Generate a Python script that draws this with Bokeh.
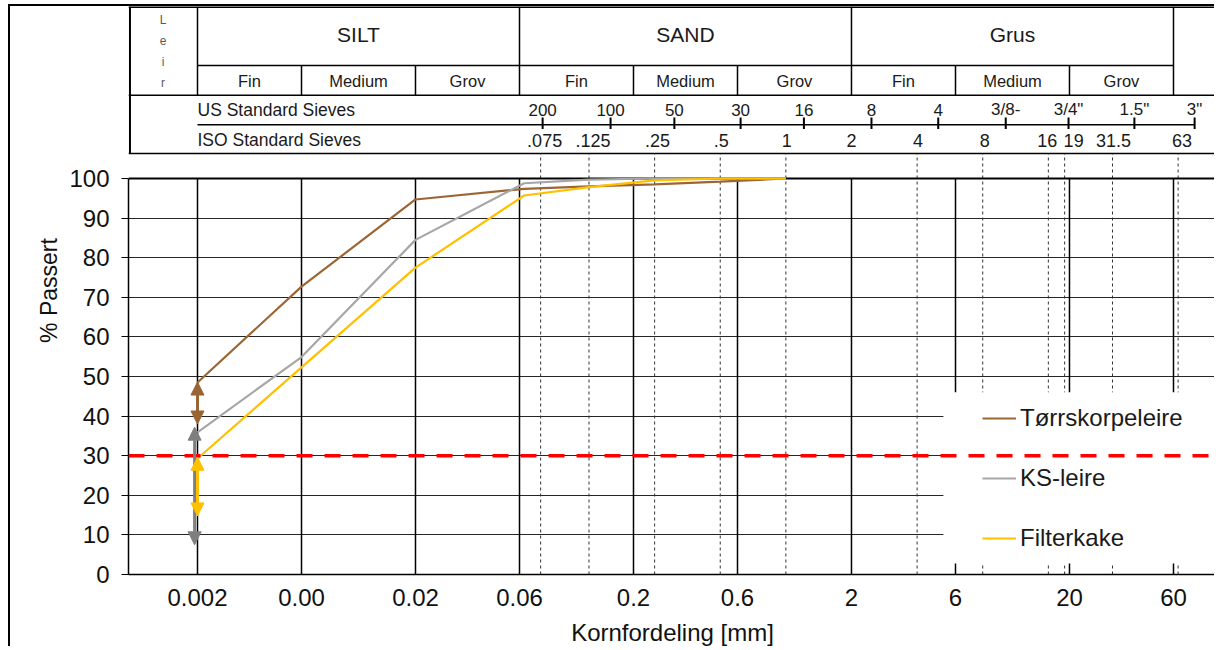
from bokeh.plotting import figure
from bokeh.models import (Range1d, FixedTicker, Span, Arrow, NormalHead,
                          Legend, LegendItem)
from bokeh.core.properties import value
from bokeh.embed import file_html
from bokeh.resources import INLINE

FONT = "Liberation Sans"

# ---------------- data ----------------
grain_mm = [0.002, 0.006, 0.02, 0.063, 0.125, 0.25, 0.5, 1.0]
torrskorpeleire = [48.5, 72.7, 94.7, 97.4, 98.0, 98.5, 99.2, 100.0]
ks_leire = [35.9, 54.9, 84.5, 98.8, 99.7, 100.0, 100.0, 100.0]
filterkake = [29.3, 52.3, 77.5, 95.7, 97.8, 99.5, 100.0, 100.0]

series_names = ["Tørrskorpeleire", "KS-leire", "Filterkake"]
series_colors = ["#9C6634", "#A6A6A6", "#FFC000"]

# range arrows at the clay boundary (drawn gray, yellow, brown)
arrow_names = ["KS-leire", "Filterkake", "Tørrskorpeleire"]
arrow_x = [0.00194, 0.002, 0.002]
arrow_top = [37.2, 29.6, 48.6]
arrow_bottom = [7.5, 14.8, 38.0]
arrow_colors = ["#7F7F7F", "#FFC000", "#996633"]

# class boundaries / x tick labels
class_bounds = [0.002, 0.006, 0.02, 0.06, 0.2, 0.6, 2, 6, 20, 60]
class_labels = ["0.002", "0.00", "0.02", "0.06", "0.2", "0.6", "2", "6", "20", "60"]

main_classes = ["SILT", "SAND", "Grus"]
main_from = [0.002, 0.06, 2]
main_to = [0.06, 2, 60]
sub_classes = ["Fin", "Medium", "Grov"] * 3

us_sieve_labels = ["200", "100", "50", "30", "16", "8", "4", "3/8-", "3/4\"", "1.5\"", "3\""]
us_sieve_mm = [0.0766, 0.157, 0.308, 0.62, 1.21, 2.47, 5.0, 10.2, 19.8, 39.7, 75.0]
iso_sieve_labels = [".075", ".125", ".25", ".5", "1", "2", "4", "8", "16", "19", "31.5", "63"]
iso_sieve_mm = [0.075, 0.125, 0.25, 0.5, 1, 2, 4, 8, 16, 19, 31.5, 63]
iso_dashed_mm = [0.075, 0.125, 0.25, 0.5, 1, 4, 8, 16, 19, 31.5, 63]

# ---------------- layout constants ----------------
X_LO, X_HI = 0.000965, 94.5
Y_TOP = 143.43
HDR_TOP, ROW1, ROW2, US_LINE, HDR_BOT = Y_TOP, 128.5, 121.0, 113.6, 106.3
iso_label_dx = [4, 4, 3, 1, 1, 0, 1, 2, -1, 9, 1, 4]

p = figure(width=1206, height=642, x_axis_type="log",
           x_range=Range1d(X_LO, X_HI), y_range=Range1d(0, Y_TOP),
           output_backend="svg", toolbar_location=None,
           min_border_left=118, min_border_right=0, min_border_top=0,
           min_border_bottom=74, background_fill_color="white",
           border_fill_color="white")
p.styles = {"border-left": "2px solid black", "border-top": "2px solid black",
            "margin-left": "8px", "margin-top": "4px"}
p.outline_line_color = None
p.xgrid.visible = False
p.ygrid.ticker = FixedTicker(ticks=list(range(0, 101, 10)))
p.ygrid.grid_line_color = "#262626"
p.ygrid.grid_line_width = 1

# y axis
ya = p.yaxis[0]
ya.ticker = FixedTicker(ticks=list(range(0, 101, 10)))
ya.bounds = (0, 100)
ya.axis_line_width = 1.5
ya.axis_line_color = "black"
ya.major_tick_out = 7
ya.major_tick_in = 0
ya.minor_tick_line_color = None
ya.major_label_text_font = FONT
ya.major_label_text_font_size = "24px"
ya.major_label_text_color = "#111111"
ya.major_label_standoff = 12
ya.axis_label = "% Passert"
ya.axis_label_text_font = FONT
ya.axis_label_text_font_size = "23px"
ya.axis_label_text_font_style = "normal"
ya.axis_label_text_color = "#111111"
ya.axis_label_standoff = 4

# x axis
xa = p.xaxis[0]
xa.ticker = FixedTicker(ticks=class_bounds)
xa.major_label_overrides = {v: t for v, t in zip(class_bounds, class_labels)}
xa.axis_line_width = 1.5
xa.axis_line_color = "black"
xa.major_tick_in = 0
xa.major_tick_out = 0
xa.minor_tick_line_color = None
xa.major_label_text_font = FONT
xa.major_label_text_font_size = "24px"
xa.major_label_text_color = "#111111"
xa.major_label_standoff = 14
xa.axis_label = "Kornfordeling [mm]"
xa.axis_label_text_font = FONT
xa.axis_label_text_font_size = "24px"
xa.axis_label_text_font_style = "normal"
xa.axis_label_text_color = "#111111"
xa.axis_label_standoff = 10

# ---------------- plot grid lines ----------------
n = len(class_bounds)
p.segment(x0=class_bounds, y0=[0] * n, x1=class_bounds, y1=[100] * n,
          line_color="black", line_width=1.5)
m = len(iso_dashed_mm)
p.segment(x0=iso_dashed_mm, y0=[0] * m, x1=iso_dashed_mm, y1=[HDR_BOT] * m,
          line_color="#333333", line_width=1, line_dash="3 3")
p.segment(x0=[X_LO], y0=[100], x1=[X_HI], y1=[100], line_color="black", line_width=2)

# ---------------- header table ----------------
hx0 = [X_LO, 0.002, X_LO, 0.002, X_LO]
hx1 = [X_HI, 60, X_HI, 75, X_HI]
hy = [HDR_TOP, ROW1, ROW2, US_LINE, HDR_BOT]
p.segment(x0=hx0, y0=hy, x1=hx1, y1=hy, line_color="black",
          line_width=[3, 1.5, 1.5, 1.5, 1.5])
# verticals
p.segment(x0=[0.00098], y0=[HDR_BOT], x1=[0.00098], y1=[Y_TOP], line_color="black", line_width=2)
main_div = [0.002, 0.06, 2, 60]
p.segment(x0=main_div, y0=[ROW2] * 4, x1=main_div, y1=[Y_TOP] * 4,
          line_color="black", line_width=1.5)
sub_div = [0.006, 0.02, 0.2, 0.6, 6, 20]
p.segment(x0=sub_div, y0=[ROW2] * 6, x1=sub_div, y1=[ROW1] * 6,
          line_color="black", line_width=1.5)
k = len(us_sieve_mm)
p.segment(x0=us_sieve_mm, y0=[112.5] * k, x1=us_sieve_mm, y1=[115.4] * k,
          line_color="black", line_width=2)

main_cx = [(a * b) ** 0.5 for a, b in zip(main_from, main_to)]
p.text(x=main_cx, y=[136.4] * 3, text=main_classes, text_font=value(FONT),
       text_font_size=value("21px"), text_align="center", text_baseline="middle",
       text_color="#1a1a1a")
sub_cx = [(class_bounds[i] * class_bounds[i + 1]) ** 0.5 for i in range(9)]
p.text(x=sub_cx, y=[124.5] * 9, text=sub_classes, text_font=value(FONT),
       text_font_size=value("16.5px"), text_align="center", text_baseline="middle",
       text_color="#1a1a1a")
p.text(x=[(X_LO * 0.002) ** 0.5], y=[132.0], text=["L\ne\ni\nr"], text_font=value(FONT),
       text_font_size=value("12px"), text_align="center", text_baseline="middle",
       text_line_height=1.5, text_color="#595959")
p.text(x=us_sieve_mm, y=[117.3] * k, text=us_sieve_labels, text_font=value(FONT),
       text_font_size=value("17px"), text_align="center", text_baseline="middle",
       text_color="#1a1a1a")
p.text(x=iso_sieve_mm, y=[109.6] * len(iso_sieve_mm), text=iso_sieve_labels,
       text_font=value(FONT), text_font_size=value("18px"), text_align="center",
       text_baseline="middle", x_offset=iso_label_dx, text_color="#1a1a1a")
p.text(x=[0.002, 0.002], y=[117.3, 109.6], text=["US Standard Sieves", "ISO Standard Sieves"],
       text_font=value(FONT), text_font_size=value("17.5px"), text_align="left",
       text_baseline="middle", text_color="#1a1a1a")

# ---------------- series ----------------
renderers = []
for name, ys, col in zip(series_names, [torrskorpeleire, ks_leire, filterkake], series_colors):
    r = p.line(x=grain_mm, y=ys, line_color=col, line_width=2.2)
    renderers.append((name, r))

# legend backdrop (white box covering grid)
p.quad(left=[5.28], right=[X_HI], bottom=[2.8], top=[46.0], fill_color="white", line_color=None)

# red 30 % line
p.add_layout(Span(location=30, dimension="width", line_color="#FF0000",
                  line_width=3.5, line_dash="16 12"))

# range arrows
for xx, top, bot, col in zip(arrow_x, arrow_top, arrow_bottom, arrow_colors):
    p.add_layout(Arrow(x_start=xx, y_start=bot, x_end=xx, y_end=top,
                       line_color=col, line_width=3,
                       start=NormalHead(size=13, fill_color=col, line_color=col),
                       end=NormalHead(size=13, fill_color=col, line_color=col)))

legend = Legend(items=[LegendItem(label=nm, renderers=[r]) for nm, r in renderers],
                location=(854, 21), padding=0, spacing=30, glyph_height=30,
                label_height=30, glyph_width=34, label_standoff=4, margin=0,
                background_fill_alpha=0, border_line_color=None,
                label_text_font=FONT, label_text_font_size="24px",
                label_text_color="#1a1a1a")
p.add_layout(legend)

open("out.html", "w").write(file_html(p, INLINE))
